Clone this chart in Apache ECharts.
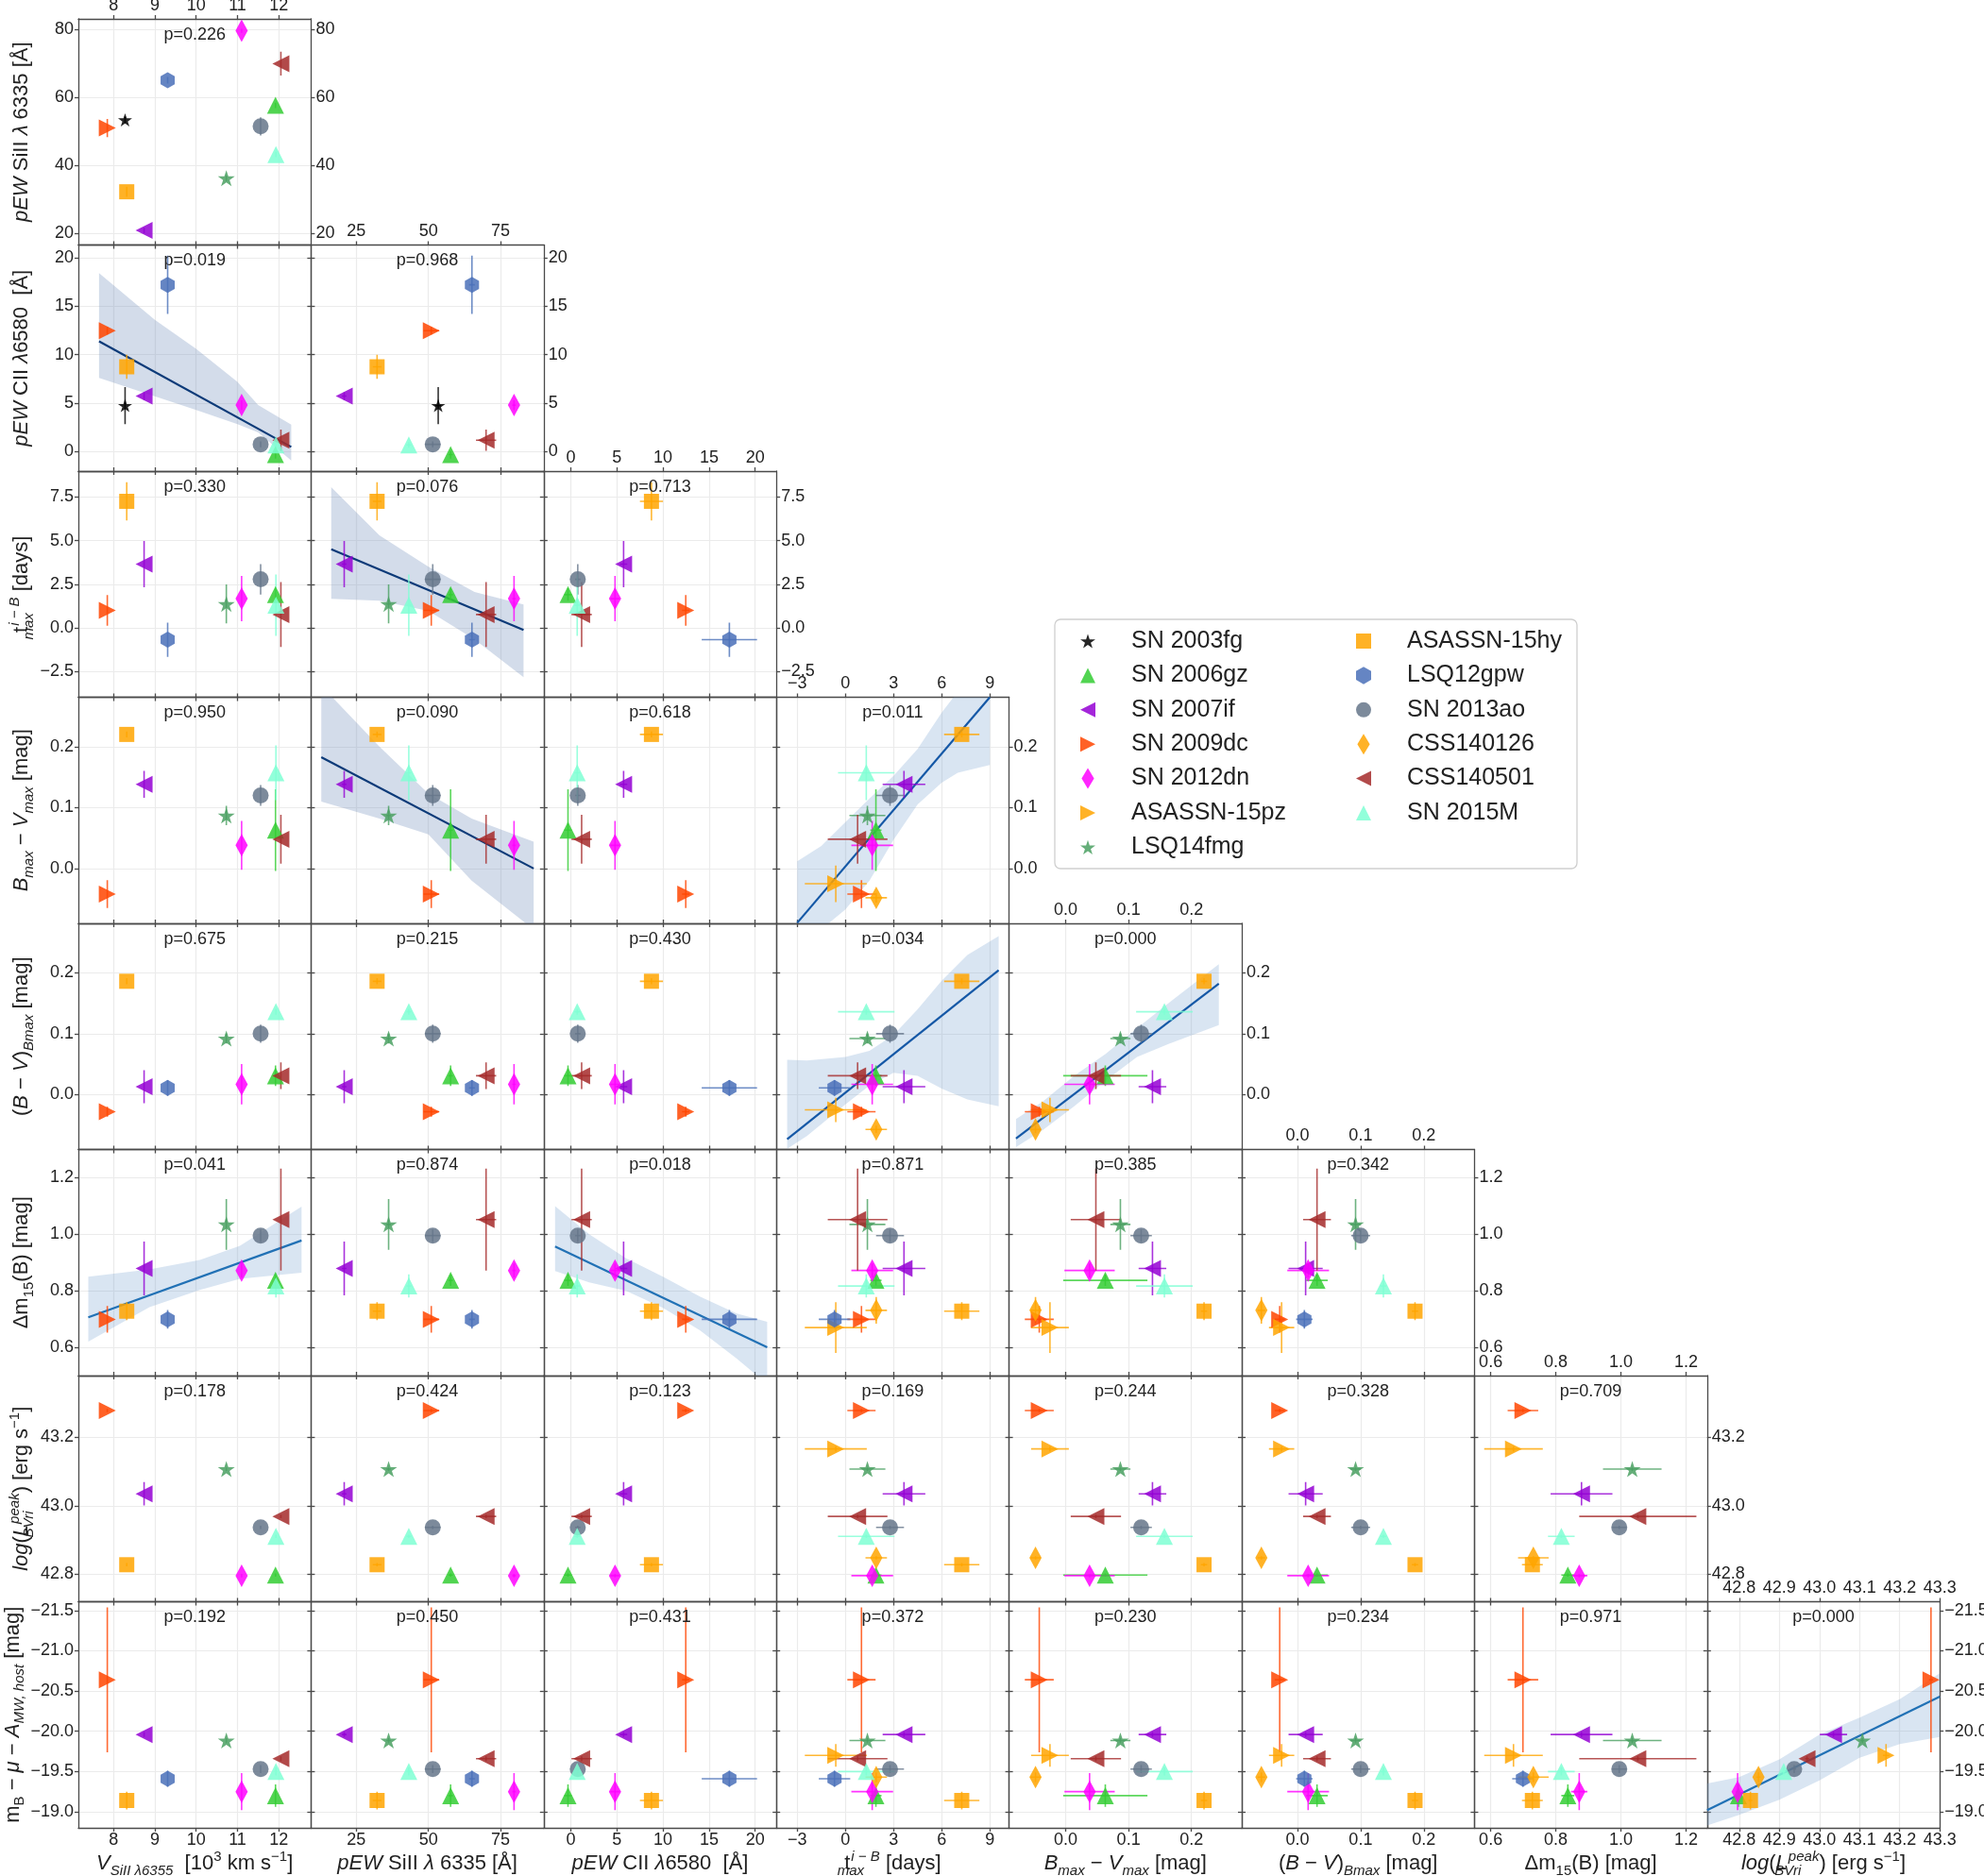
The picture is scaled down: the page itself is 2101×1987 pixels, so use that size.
<!DOCTYPE html>
<html>
<head>
<meta charset="utf-8">
<script src="https://cdn.jsdelivr.net/npm/echarts@6/dist/echarts.min.js"></script>
<style>
  html, body { margin: 0; padding: 0; background: #fff; }
  #chart { width: 2101px; height: 1987px; }
</style>
</head>
<body>
<div id="chart"></div>
<script>
// ── Objects ────────────────────────────────────────────────────────────────
var snNames  = ['SN 2003fg', 'SN 2006gz', 'SN 2007if', 'SN 2009dc', 'SN 2012dn', 'ASASSN-15pz', 'LSQ14fmg',
                'ASASSN-15hy', 'LSQ12gpw', 'SN 2013ao', 'CSS140126', 'CSS140501', 'SN 2015M'];

// ── Measurements (null = not measured) ─────────────────────────────────────
var vSi       = [8.28, 11.92, 8.74, 7.85, 11.10, null, 10.73, 8.32, 9.31, 11.56, null, 12.05, 11.93];
var vSiErr    = [0, 0, 0, 0, 0, null, 0, 0, 0, 0, null, 0, 0];
var pewSi     = [53.4, 57.7, 20.8, 51.0, 79.7, null, 36.2, 32.2, 65.1, 51.5, null, 70.0, 43.2];
var pewSiErr  = [1.0, 0.8, 0.8, 2.7, 0.6, null, 0.8, 1.5, 1.0, 2.7, null, 3.5, 0.8];
var pewC      = [4.75, -0.3, 5.73, 12.47, 4.8, null, null, 8.75, 17.2, 0.76, null, 1.18, 0.7];
var pewCErr   = [1.9, 0.4, 0.4, 0.4, 0.5, null, null, 1.25, 3.0, 0.3, null, 1.1, 0.3];
var tMax      = [null, 1.9, 3.65, 1.0, 1.67, -0.6, 1.37, 7.25, -0.68, 2.78, 1.92, 0.76, 1.3];
var tMaxErr   = [null, 0.35, 1.33, 0.88, 1.3, 1.93, 1.12, 1.1, 0.98, 0.87, 0.67, 1.86, 1.76];
var bMinusV   = [null, 0.063, 0.138, -0.042, 0.038, -0.025, 0.087, 0.22, null, 0.12, -0.048, 0.048, 0.157];
var bMinusVErr= [null, 0.067, 0.022, 0.023, 0.04, 0.03, 0.016, 0.005, null, 0.017, 0.008, 0.04, 0.045];
var bvBmax    = [null, 0.031, 0.013, -0.028, 0.017, -0.025, 0.092, 0.186, 0.011, 0.1, -0.057, 0.031, 0.136];
var bvBmaxErr = [null, 0.017, 0.027, 0.008, 0.033, 0.02, 0.008, 0.005, 0.013, 0.015, 0.006, 0.022, 0.005];
var dm15      = [null, 0.837, 0.879, 0.699, 0.872, 0.67, 1.035, 0.728, 0.699, 0.995, 0.731, 1.052, 0.817];
var dm15Err   = [null, 0.02, 0.095, 0.047, 0.025, 0.09, 0.09, 0.032, 0.033, 0.022, 0.047, 0.18, 0.041];
var logL      = [null, 42.798, 43.035, 43.278, 42.796, 43.166, 43.107, 42.828, null, 42.937, 42.848, 42.969, 42.911];
var logLErr   = [null, 0.005, 0.034, 0.005, 0.005, 0.008, 0.005, 0.005, null, 0.005, 0.005, 0.005, 0.005];
var mB        = [null, -19.2, -19.96, -20.64, -19.25, -19.70, -19.885, -19.14, -19.41, -19.53, -19.43, -19.66, -19.5];
var mBErr     = [null, 0.14, 0.03, 0.9, 0.23, 0.14, 0.03, 0.11, 0.1, 0.05, 0.06, 0.03, 0.05];

// p-values, row by row of the lower triangle
var pValues = [0.226,
               0.019, 0.968,
               0.330, 0.076, 0.713,
               0.950, 0.090, 0.618, 0.011,
               0.675, 0.215, 0.430, 0.034, 0.000,
               0.041, 0.874, 0.018, 0.871, 0.385, 0.342,
               0.178, 0.424, 0.123, 0.169, 0.244, 0.328, 0.709,
               0.192, 0.450, 0.431, 0.372, 0.230, 0.234, 0.971, 0.000];

// ── Axes ───────────────────────────────────────────────────────────────────
var colTicks = [[8, 9, 10, 11, 12], [25, 50, 75], [0, 5, 10, 15, 20], [-3, 0, 3, 6, 9],
                [0, 0.1, 0.2], [0, 0.1, 0.2], [0.6, 0.8, 1.0, 1.2], [42.8, 42.9, 43.0, 43.1, 43.2, 43.3]];
var colDec   = [0, 0, 0, 0, 1, 1, 1, 1];
var colMin   = [7.15, 9.3, -2.93, -4.3, -0.09, -0.088, 0.55, 42.72];
var colMax   = [12.78, 90.0, 22.3, 10.2, 0.28, 0.28, 1.265, 43.30];
var rowTicks = [[20, 40, 60, 80], [0, 5, 10, 15, 20], [-2.5, 0, 2.5, 5, 7.5], [0, 0.1, 0.2],
                [0, 0.1, 0.2], [0.6, 0.8, 1.0, 1.2], [42.8, 43.0, 43.2], [-21.5, -21, -20.5, -20, -19.5, -19]];
var rowDec   = [0, 0, 1, 1, 1, 1, 1, 1];
var rowMin   = [16.5, -2.0, -3.98, -0.09, -0.09, 0.50, 42.72, -21.61];
var rowMax   = [83.2, 21.3, 8.98, 0.281, 0.281, 1.30, 43.38, -18.80];

var colNames = [
  '{i|V}{subi|SiII λ6355}{n|  [10}{sup|3}{n| km s}{sup|−1}{n|]}',
  '{i|pEW}{n| SiII }{i|λ}{n| 6335 [Å]}',
  '{i|pEW}{n| CII }{i|λ}{n|6580  [Å]}',
  '{n|t}{subzi|max}{supi|i − B}{n| [days]}',
  '{i|B}{subi|max}{n| − }{i|V}{subi|max}{n| [mag]}',
  '{n|(}{i|B}{n| − }{i|V}{n|)}{subi|Bmax}{n| [mag]}',
  '{n|Δm}{sub|15}{n|(B) [mag]}',
  '{i|log}{n|(}{i|L}{subzi|BVri}{supi|peak}{n|) [erg s}{sup|−1}{n|]}'
];
var rowNames = [colNames[1], colNames[2], colNames[3], colNames[4], colNames[5], colNames[6], colNames[7],
  '{n|m}{sub|B}{n| − }{i|μ}{n| − }{i|A}{subi|MW, host}{n| [mag]}'];

// ── Fits: line ends and confidence band (x, lower, upper) ──────────────────
var fitPanels = [[1, 0], [2, 1], [3, 1], [3, 3], [4, 3], [4, 4], [5, 0], [5, 2], [7, 7]];
var fitLineX  = [[7.65, 12.3], [16.3, 83.0], [12.85, 86.5], [-3.0, 9.0], [-3.63, 9.55],
                 [-0.079, 0.2435], [7.39, 12.55], [-1.7, 21.3], [42.72, 43.30]];
var fitLineY  = [[11.38, 0.49], [4.5, -0.12], [0.1825, 0.0], [-0.089, 0.281], [-0.073, 0.204],
                 [-0.072, 0.182], [0.706, 0.978], [0.957, 0.60], [-19.02, -20.43]];
var bandX = [
  [7.65, 9.0, 10.0, 11.0, 11.5, 12.3],
  [16.3, 33, 50, 66, 83],
  [12.85, 33, 50, 65, 86.5],
  [-3, -1.5, 0, 1.5, 3, 4.5, 6, 7, 9],
  [-3.63, -2.4, 0, 1.5, 3, 4.5, 6, 7.6, 9.55],
  [-0.079, -0.036, 0.0135, 0.0635, 0.1135, 0.1635, 0.2435],
  [7.39, 8.87, 10.09, 11.06, 12.55],
  [-1.7, 2, 6, 10, 14, 18, 21.3],
  [42.72, 42.8, 42.9, 43.0, 43.1, 43.2, 43.3]
];
var bandLo = [
  [7.6, 5.7, 4.3, 2.85, 2.0, -0.9],
  [1.66, 1.55, 0.97, -0.66, -2.83],
  [0.11, 0.082, 0.056, -0.02, -0.10],
  [-0.15, -0.10, -0.067, -0.02, 0.047, 0.105, 0.141, 0.157, 0.17],
  [-0.089, -0.068, -0.016, 0.015, 0.036, 0.031, 0.01, -0.008, -0.019],
  [-0.086, -0.058, -0.019, 0.023, 0.062, 0.083, 0.114],
  [0.62, 0.742, 0.803, 0.842, 0.864],
  [0.87, 0.83, 0.80, 0.74, 0.66, 0.56, 0.47],
  [-18.83, -18.96, -19.15, -19.39, -19.67, -19.84, -19.93]
];
var bandHi = [
  [18.4, 13.6, 10.6, 7.2, 4.8, 2.8],
  [8.06, 5.3, 3.5, 2.05, 1.33],
  [0.30, 0.20, 0.123, 0.082, 0.044],
  [0.012, 0.037, 0.076, 0.115, 0.152, 0.196, 0.256, 0.29, 0.35],
  [0.057, 0.056, 0.062, 0.072, 0.098, 0.14, 0.187, 0.229, 0.26],
  [-0.04, -0.011, 0.031, 0.067, 0.109, 0.15, 0.214],
  [0.85, 0.876, 0.909, 0.959, 1.098],
  [1.10, 1.0, 0.915, 0.85, 0.78, 0.72, 0.69],
  [-19.35, -19.43, -19.65, -19.96, -20.17, -20.40, -20.72]
];

// ── Styling ────────────────────────────────────────────────────────────────
var FONT = '"Liberation Sans", Arial, sans-serif';
var STAR  = 'path://M0,-10L2.245,-3.09L9.51,-3.09L3.633,1.18L5.88,8.09L0,3.82L-5.88,8.09L-3.633,1.18L-9.51,-3.09L-2.245,-3.09Z';
var HEX   = 'path://M0,-10L8.66,-5L8.66,5L0,10L-8.66,5L-8.66,-5Z';
var THIN  = 'path://M0,-10L6,0L0,10L-6,0Z';
var TRI_U = 'path://M10,0L20,20L0,20Z';
var TRI_L = 'path://M0,10L20,0L20,20Z';
var TRI_R = 'path://M20,10L0,0L0,20Z';
var SQR   = 'path://M0,0L20,0L20,20L0,20Z';
var snColors  = ['#000000', '#32cd32', '#9400d3', '#ff4500', '#ff00ff', '#ffa500', '#4aa061',
                 '#ffa500', '#4a70b8', '#65768a', '#ffa500', '#a52a2a', '#7fffd4'];
var snSymbols = [STAR, TRI_U, TRI_L, TRI_R, THIN, TRI_R, STAR, SQR, HEX, 'circle', THIN, TRI_L, TRI_U];
var snSizes   = [[15, 14], 18, 18, 18, [13, 24], 18, [18, 17], 16, [15, 17], 17, [13, 24], 18, 18];
var fitLineColor = ['#0c3a78', '#0c3a78', '#0c3a78', '#1558a6', '#1558a6', '#1558a6', '#2171b5', '#2171b5', '#2171b5'];
var fitBandColor = ['rgba(110,140,185,0.30)', 'rgba(110,140,185,0.30)', 'rgba(110,140,185,0.30)',
                    'rgba(120,160,210,0.28)', 'rgba(120,160,210,0.28)', 'rgba(120,160,210,0.28)',
                    'rgba(120,160,210,0.28)', 'rgba(120,160,210,0.28)', 'rgba(120,160,210,0.28)'];

var L0 = 83, T0 = 20, W = 246.4, H = 239.5;
var AXIS = '#4a4a4a', TXT = '#222';

var varVals = [vSi, pewSi, pewC, tMax, bMinusV, bvBmax, dm15, logL, mB];
var varErrs = [vSiErr, pewSiErr, pewCErr, tMaxErr, bMinusVErr, bvBmaxErr, dm15Err, logLErr, mBErr];

function fmt(d) {
  return function (v) {
    var s = (+v).toFixed(d);
    if (/^-0(\.0+)?$/.test(s)) s = s.slice(1);
    return s.replace('-', '\u2212');
  };
}

function richStyles() {
  var base = { fontSize: 22, color: TXT, fontFamily: FONT, lineHeight: 30, verticalAlign: 'middle' };
  var small = { fontSize: 15, color: TXT, fontFamily: FONT, lineHeight: 13 };
  function ext(a, b) { var o = {}; for (var k in a) o[k] = a[k]; for (var k2 in b) o[k2] = b[k2]; return o; }
  return {
    n: base,
    i: ext(base, { fontStyle: 'italic' }),
    sub: ext(small, { verticalAlign: 'bottom' }),
    subi: ext(small, { verticalAlign: 'bottom', fontStyle: 'italic' }),
    subzi: ext(small, { verticalAlign: 'bottom', fontStyle: 'italic', width: 1 }),
    sup: ext(small, { verticalAlign: 'top' }),
    supi: ext(small, { verticalAlign: 'top', fontStyle: 'italic' })
  };
}

function buildX(j, k, pos, labels, named) {
  return {
    type: 'value', gridIndex: k, position: pos, min: colMin[j], max: colMax[j],
    axisLine: { show: true, onZero: false, lineStyle: { color: AXIS, width: 1.3 } },
    axisTick: { show: true, inside: false, length: 4, customValues: colTicks[j], lineStyle: { color: AXIS, width: 1.3 } },
    axisLabel: { show: labels, customValues: colTicks[j], margin: pos === 'bottom' ? 4 : 5,
                 formatter: fmt(colDec[j]), color: TXT, fontSize: 18, fontFamily: FONT },
    splitLine: { show: pos === 'bottom', lineStyle: { color: '#ebebeb', width: 1.2 } },
    name: named ? colNames[j] : '', nameLocation: 'middle', nameGap: 19,
    nameTextStyle: { rich: richStyles(), lineHeight: 30 }
  };
}

function buildY(i, k, pos, labels, named) {
  return {
    type: 'value', gridIndex: k, position: pos, min: rowMin[i], max: rowMax[i], inverse: i === 7,
    axisLine: { show: true, onZero: false, lineStyle: { color: AXIS, width: 1.3 } },
    axisTick: { show: true, inside: false, length: 4, customValues: rowTicks[i], lineStyle: { color: AXIS, width: 1.3 } },
    axisLabel: { show: labels, customValues: rowTicks[i], margin: 5,
                 formatter: fmt(rowDec[i]), color: TXT, fontSize: 18, fontFamily: FONT },
    splitLine: { show: pos === 'left', lineStyle: { color: '#ebebeb', width: 1.2 } },
    name: named ? rowNames[i] : '', nameLocation: 'middle', nameRotate: 90, nameGap: 45,
    nameTextStyle: { rich: richStyles(), lineHeight: 30 }
  };
}

function errorBars(k, rows) {
  return {
    type: 'custom', xAxisIndex: 2 * k, yAxisIndex: 2 * k, data: rows, z: 3, silent: true, clip: true,
    renderItem: function (params, api) {
      var x = api.value(0), y = api.value(1), ex = api.value(2), ey = api.value(3), s = api.value(4);
      var st = { stroke: snColors[s], lineWidth: 1.6, opacity: 0.8 };
      var kids = [];
      if (ex > 0) {
        var a = api.coord([x - ex, y]), b = api.coord([x + ex, y]);
        kids.push({ type: 'line', shape: { x1: a[0], y1: a[1], x2: b[0], y2: b[1] }, style: st });
      }
      if (ey > 0) {
        var u = api.coord([x, y - ey]), d = api.coord([x, y + ey]);
        kids.push({ type: 'line', shape: { x1: u[0], y1: u[1], x2: d[0], y2: d[1] }, style: st });
      }
      return { type: 'group', children: kids };
    }
  };
}

function bandSeries(k, f) {
  var rows = bandX[f].map(function (x, q) { return [x, bandLo[f][q], bandHi[f][q]]; });
  return {
    type: 'custom', xAxisIndex: 2 * k, yAxisIndex: 2 * k, data: rows, z: 1, silent: true, clip: true,
    renderItem: function (params, api) {
      if (params.dataIndex !== 0) return null;
      var pts = [], q;
      for (q = 0; q < rows.length; q++) pts.push(api.coord([rows[q][0], rows[q][2]]));
      for (q = rows.length - 1; q >= 0; q--) pts.push(api.coord([rows[q][0], rows[q][1]]));
      return { type: 'polygon', shape: { points: pts }, style: { fill: fitBandColor[f] } };
    }
  };
}

// ── Build the corner grid ──────────────────────────────────────────────────
var grids = [], xAxes = [], yAxes = [], series = [], graphics = [];
var k = 0;
for (var i = 0; i < 8; i++) {
  for (var j = 0; j <= i; j++) {
    grids.push({ left: L0 + j * W, top: T0 + i * H, width: W, height: H, containLabel: false, outerBoundsMode: 'none' });
    xAxes.push(buildX(j, k, 'bottom', i === 7, i === 7));
    xAxes.push(buildX(j, k, 'top', i === j, false));
    yAxes.push(buildY(i, k, 'left', j === 0, j === 0));
    yAxes.push(buildY(i, k, 'right', i === j, false));

    var xv = varVals[j], xe = varErrs[j], yv = varVals[i + 1], ye = varErrs[i + 1];
    var rows = [];
    for (var s = 0; s < snNames.length; s++) {
      if (xv[s] == null || yv[s] == null) continue;
      rows.push([xv[s], yv[s], xe[s] || 0, ye[s] || 0, s]);
      series.push({
        type: 'scatter', name: snNames[s], xAxisIndex: 2 * k, yAxisIndex: 2 * k,
        data: [[xv[s], yv[s]]], symbol: snSymbols[s], symbolSize: snSizes[s],
        itemStyle: { color: snColors[s], opacity: 0.85 }, z: 4, silent: true
      });
    }
    series.push(errorBars(k, rows));

    graphics.push({
      type: 'text', x: L0 + j * W + W / 2, y: T0 + i * H + 17, z: 10,
      style: { text: 'p=' + pValues[k].toFixed(3), fill: TXT, font: '18px ' + FONT,
               textAlign: 'center', textVerticalAlign: 'middle', align: 'center', verticalAlign: 'middle' }
    });
    k++;
  }
}

fitPanels.forEach(function (p, f) {
  var kk = p[0] * (p[0] + 1) / 2 + p[1];
  series.push(bandSeries(kk, f));
  series.push({
    type: 'line', xAxisIndex: 2 * kk, yAxisIndex: 2 * kk, silent: true, z: 2, showSymbol: false, symbol: 'none',
    data: [[fitLineX[f][0], fitLineY[f][0]], [fitLineX[f][1], fitLineY[f][1]]],
    lineStyle: { color: fitLineColor[f], width: 2.2 }
  });
});

// legend frame
graphics.push({
  type: 'rect', z: 0, shape: { x: 1117, y: 656, width: 553, height: 264, r: 6 },
  style: { fill: '#fff', stroke: '#cfcfcf', lineWidth: 1.3 }
});

function legendOpt(names, left) {
  return {
    data: names, orient: 'vertical', left: left, top: 659, itemWidth: 16, itemHeight: 22, itemGap: 6.4,
    selectedMode: false, symbolKeepAspect: true,
    textStyle: { fontSize: 25, fontFamily: FONT, color: TXT, lineHeight: 30, padding: [0, 0, 0, 33] }
  };
}

var chart = echarts.init(document.getElementById('chart'), null, { renderer: 'canvas' });
chart.setOption({
  animation: false,
  backgroundColor: '#fff',
  textStyle: { fontFamily: FONT },
  grid: grids,
  xAxis: xAxes,
  yAxis: yAxes,
  legend: [legendOpt(snNames.slice(0, 7), 1139), legendOpt(snNames.slice(7), 1431)],
  graphic: graphics,
  series: series
});
</script>
</body>
</html>
